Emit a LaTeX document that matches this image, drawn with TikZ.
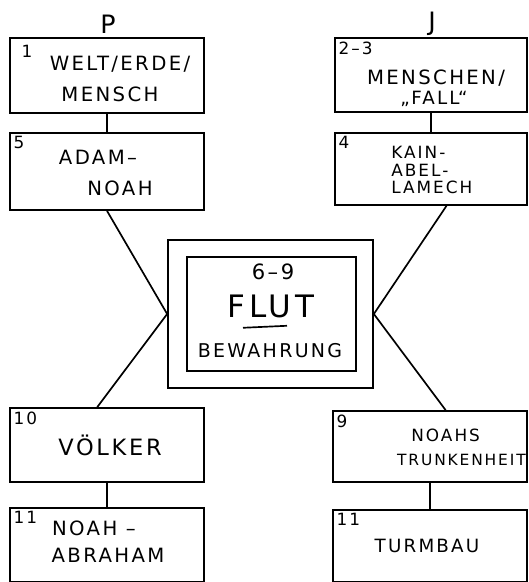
\documentclass[tikz,border=0pt]{standalone}
\usepackage{fontspec}
\newfontfamily\hand[LetterSpace=12]{DejaVu Sans}
\usetikzlibrary{calc}

\begin{document}
\begin{tikzpicture}[x=0.025cm, y=-0.025cm,
  box/.style={draw, line width=1.2pt, inner sep=0pt},
  txt/.style={font=\hand\fontsize{14}{16}\selectfont, inner sep=0pt},
  num/.style={font=\hand\fontsize{12}{14}\selectfont, anchor=north west, inner sep=3pt},
  link/.style={line width=1.2pt}]

\def\px{0.025cm}

\useasboundingbox (0,0) rectangle (528,582);

% sources
\node[font=\hand\fontsize{18}{20}\selectfont] (srcp) at (108,24) {P};
\node[font=\hand\fontsize{18}{20}\selectfont] (srcj) at (432,24) {J};

% left column
\node[box, minimum width=194*\px, minimum height=75*\px] (b1) at (107,75.5) {};
\node[box, minimum width=194*\px, minimum height=77*\px] (b5) at (107,171.5) {};
\node[box, minimum width=194*\px, minimum height=74*\px] (b10) at (107,445) {};
\node[box, minimum width=194*\px, minimum height=74*\px] (b11l) at (107,545) {};

% right column
\node[box, minimum width=192*\px, minimum height=74*\px] (b23) at (431,75) {};
\node[box, minimum width=192*\px, minimum height=72*\px] (b4) at (431,169) {};
\node[box, minimum width=194*\px, minimum height=71*\px] (b9) at (430,446.5) {};
\node[box, minimum width=194*\px, minimum height=72*\px] (b11r) at (430,546) {};

% flood
\node[box, minimum width=205*\px, minimum height=148*\px] (flo) at (270.5,314) {};
\node[box, minimum width=169*\px, minimum height=114*\px] (fli) at (271.5,314) {};

\node[num] (n1) at ($(b1.north west)+(8,4)$) {1};
\node[num] (n5) at (b5.north west) {5};
\node[num] (n10) at (b10.north west) {10};
\node[num] (n11l) at (b11l.north west) {11};
\node[num] (n23) at (b23.north west) {2–3};
\node[num] (n4) at (b4.north west) {4};
\node[num] (n9) at (b9.north west) {9};
\node[num] (n11r) at (b11r.north west) {11};

\node[txt] (t1a) at (120,64) {WELT/ERDE/};
\node[txt] (t1b) at (110,94) {MENSCH};
\node[txt] (t5a) at (98,157) {ADAM–};
\node[txt] (t5b) at (120,188) {NOAH};
\node[txt, font=\hand\fontsize{16}{18}\selectfont] (t10) at (110,445) {VÖLKER};
\node[txt] (t11a) at (94,528) {NOAH –};
\node[txt] (t11b) at (108,555) {ABRAHAM};

\node[txt] (t23a) at (436,78) {MENSCHEN/};
\node[txt, font=\hand\fontsize{13}{15}\selectfont] (t23b) at (434,99) {„FALL“};
\node[txt, font=\hand\fontsize{12}{12.4}\selectfont, align=left, anchor=north west] (t4) at (391,146) {KAIN-\\ABEL-\\LAMECH};
\node[txt, font=\hand\fontsize{12}{14}\selectfont, anchor=west] (t9a) at (411,435) {NOAHS};
\node[txt, font=\hand\fontsize{11}{13}\selectfont, anchor=east] (t9b) at (526,460) {TRUNKENHEIT};
\node[txt, font=\hand\fontsize{13}{15}\selectfont] (t11r) at (427,546) {TURMBAU};

\node[txt, font=\hand\fontsize{15}{17}\selectfont] (c69) at (273,272) {6–9};
\node[txt, font=\hand\fontsize{22}{25}\selectfont] (cflut) at (271,306) {FLUT};
\node[txt, font=\hand\fontsize{13.5}{15}\selectfont] (cbew) at (270,351) {BEWAHRUNG};
\draw[link] ($(cflut.south)+(-28,10)$) -- ($(cflut.south)+(16,8)$);

% connectors
\draw[link] (b1.south) -- (b5.north);
\draw[link] (b10.south) -- (b11l.north);
\draw[link] (b23.south) -- (b4.north);
\draw[link] (b9.south) -- (b11r.north);
\draw[link] (b5.south) -- (flo.west);
\draw[link] (flo.west) -- ($(b10.north west)!0.45!(b10.north east)$);
\draw[link] ($(b4.south west)!0.58!(b4.south east)$) -- (flo.east);
\draw[link] (flo.east) -- ($(b9.north west)!0.58!(b9.north east)$);

\end{tikzpicture}
\end{document}
